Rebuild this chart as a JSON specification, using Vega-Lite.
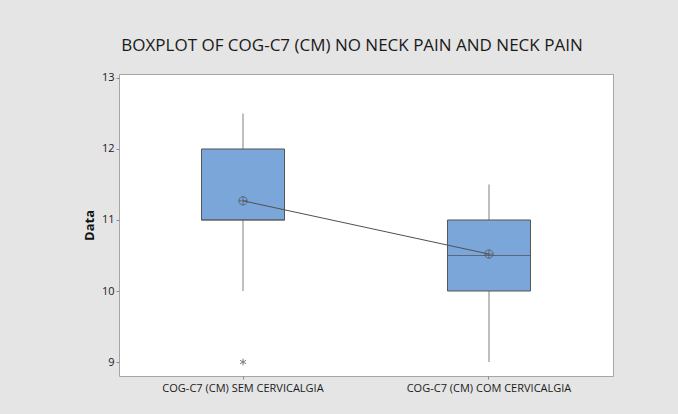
{
  "$schema": "https://vega.github.io/schema/vega-lite/v6.json",
  "width": 494,
  "height": 302,
  "autosize": {"type": "none"},
  "padding": {"left": 119, "top": 74, "right": 65, "bottom": 38},
  "background": "#e5e5e5",
  "title": {
    "text": "BOXPLOT OF COG-C7 (CM) NO NECK PAIN AND NECK PAIN",
    "font": "Open Sans",
    "fontSize": 17,
    "fontWeight": 500,
    "color": "#1a1a1a",
    "anchor": "middle",
    "dx": -14,
    "offset": 17
  },
  "config": {
    "view": {"fill": "white", "stroke": "#a6a6a6", "strokeWidth": 1},
    "axis": {
      "labelFont": "Open Sans",
      "titleFont": "Open Sans",
      "labelColor": "#1a1a1a",
      "titleColor": "#111111",
      "domain": false,
      "grid": false,
      "tickColor": "#8c8c8c",
      "tickSize": 3
    }
  },
  "datasets": {
    "stats": [
      {"group": "COG-C7 (CM) SEM CERVICALGIA", "lo": 10, "q1": 11, "median": 11, "q3": 12, "hi": 12.5, "mean": 11.27},
      {"group": "COG-C7 (CM) COM CERVICALGIA", "lo": 9, "q1": 10, "median": 10.5, "q3": 11, "hi": 11.5, "mean": 10.52}
    ],
    "outliers": [
      {"group": "COG-C7 (CM) SEM CERVICALGIA", "value": 9}
    ]
  },
  "encoding": {
    "x": {
      "field": "group",
      "type": "nominal",
      "sort": ["COG-C7 (CM) SEM CERVICALGIA", "COG-C7 (CM) COM CERVICALGIA"],
      "scale": {"type": "band", "paddingInner": 0.6626, "paddingOuter": 0.3354},
      "axis": {"title": null, "labelAngle": 0, "labelFontSize": 11, "labelPadding": 3}
    }
  },
  "layer": [
    {
      "data": {"name": "stats"},
      "mark": {"type": "rule", "color": "#808080", "strokeWidth": 1},
      "encoding": {
        "y": {
          "field": "lo",
          "type": "quantitative",
          "scale": {"domain": [8.803, 13.056], "nice": false, "zero": false},
          "axis": {
            "title": "Data",
            "titleFontSize": 13,
            "titleFontWeight": "bold",
            "titlePadding": 5,
            "values": [9, 10, 11, 12, 13],
            "format": "d",
            "labelFontSize": 11,
            "labelPadding": 2
          }
        },
        "y2": {"field": "hi"}
      }
    },
    {
      "data": {"name": "stats"},
      "mark": {"type": "bar", "fill": "#7ba6d9", "stroke": "#555555", "strokeWidth": 1},
      "encoding": {
        "y": {"field": "q1", "type": "quantitative"},
        "y2": {"field": "q3"}
      }
    },
    {
      "data": {"name": "stats"},
      "mark": {"type": "tick", "color": "#4d4d4d", "size": 84, "thickness": 1},
      "encoding": {
        "y": {"field": "median", "type": "quantitative"}
      }
    },
    {
      "data": {"name": "stats"},
      "mark": {"type": "line", "color": "#505050", "strokeWidth": 1},
      "encoding": {
        "y": {"field": "mean", "type": "quantitative"}
      }
    },
    {
      "data": {"name": "stats"},
      "mark": {"type": "point", "shape": "circle", "filled": false, "stroke": "#505050", "strokeWidth": 1, "size": 70},
      "encoding": {
        "y": {"field": "mean", "type": "quantitative"}
      }
    },
    {
      "data": {"name": "stats"},
      "mark": {"type": "point", "shape": "M-1,0L1,0M0,-1L0,1", "filled": false, "stroke": "#505050", "strokeWidth": 1, "size": 70},
      "encoding": {
        "y": {"field": "mean", "type": "quantitative"}
      }
    },
    {
      "data": {"name": "outliers"},
      "mark": {"type": "point", "shape": "M0,-1L0,1M-0.87,-0.5L0.87,0.5M-0.87,0.5L0.87,-0.5", "filled": false, "stroke": "#444444", "strokeWidth": 1, "size": 45},
      "encoding": {
        "y": {"field": "value", "type": "quantitative"}
      }
    }
  ]
}
